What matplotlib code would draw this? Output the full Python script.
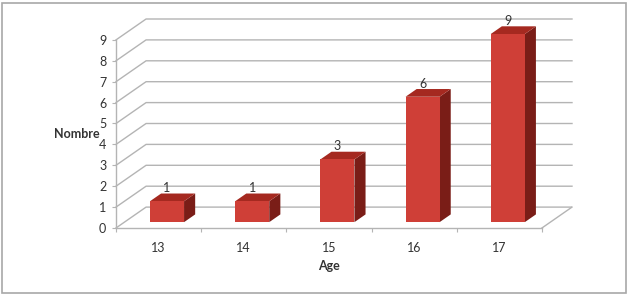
"""Excel-style 3D column chart: Nombre by Age."""

import matplotlib.pyplot as plt
import matplotlib.patches as mpatches

ages = ["13", "14", "15", "16", "17"]
counts = [1, 1, 3, 6, 9]
y_ticks = list(range(10))

# 3D look (data units): wall depth and bar placement inside it
DEPTH_X, DEPTH_Y = 0.353, 1.0
BAR_W = 0.4
BAR_FRONT = 0.28   # fraction of depth where bar front face sits
BAR_DEPTH = 0.37   # fraction of depth taken by the bar

FRONT = "#CF3F37"
TOP = "#A52920"
SIDE = "#7A1D17"
GRID = "#B4B4B4"
TEXT = "#333333"

plt.rcParams['font.family'] = ['Lato', 'DejaVu Sans']

fig = plt.figure(figsize=(6.28, 2.94), dpi=100)
ax = fig.add_axes([116 / 628, 66 / 294, 456 / 628, 209 / 294])
ax.set_xlim(0, len(ages) + DEPTH_X)
ax.set_ylim(0, 9 + DEPTH_Y)

# back wall gridlines + floor
for v in y_ticks:
    ax.plot([0, DEPTH_X, len(ages) + DEPTH_X], [v, v + DEPTH_Y, v + DEPTH_Y],
            color=GRID, lw=1, zorder=1, clip_on=False)
ax.plot([len(ages), len(ages) + DEPTH_X], [0, DEPTH_Y], color=GRID, lw=1, zorder=1)

# bars
ox, oy = BAR_FRONT * DEPTH_X, BAR_FRONT * DEPTH_Y
bx, by = BAR_DEPTH * DEPTH_X, BAR_DEPTH * DEPTH_Y
for i, v in enumerate(counts):
    x0 = i + 0.5 - BAR_W / 2 + ox
    x1 = x0 + BAR_W
    y0, y1 = oy, v + oy
    ax.add_patch(mpatches.Polygon([(x1, y0), (x1 + bx, y0 + by), (x1 + bx, y1 + by), (x1, y1)],
                                  closed=True, facecolor=SIDE, edgecolor='none', zorder=3))
    ax.add_patch(mpatches.Polygon([(x0, y1), (x1, y1), (x1 + bx, y1 + by), (x0 + bx, y1 + by)],
                                  closed=True, facecolor=TOP, edgecolor='none', zorder=3))
    ax.add_patch(mpatches.Rectangle((x0, y0), BAR_W, v, facecolor=FRONT,
                                    edgecolor='none', zorder=4))
    ax.text(x0 + BAR_W / 2, v + 0.9, str(v), ha='center', va='center',
            fontsize=9, color=TEXT, zorder=5)

# front axes
for s in ['top', 'right']:
    ax.spines[s].set_visible(False)
ax.spines['left'].set_bounds(0, 9)
ax.spines['bottom'].set_bounds(0, len(ages))
for s in ['left', 'bottom']:
    ax.spines[s].set_color(GRID)
    ax.spines[s].set_linewidth(1)
ax.patch.set_visible(False)

ax.set_yticks(y_ticks)
ax.set_yticklabels([str(t) for t in y_ticks], fontsize=9, color=TEXT)
ax.set_xticks(range(len(ages) + 1))
ax.set_xticklabels([])
ax.set_xticks([i + 0.5 for i in range(len(ages))], minor=True)
ax.set_xticklabels(ages, minor=True, fontsize=9, color=TEXT)
ax.tick_params(axis='y', length=3, color=GRID, pad=4)
ax.tick_params(axis='x', which='major', length=3, color=GRID)
ax.tick_params(axis='x', which='minor', length=0, pad=10)

ax.set_ylabel("Nombre", fontsize=9, weight='bold', color=TEXT, rotation=0,
              ha='right', va='center')
ax.yaxis.set_label_coords(-0.037, 4.5 / (9 + DEPTH_Y))
ax.set_xlabel("Age", fontsize=9, weight='bold', color=TEXT)
ax.xaxis.set_label_coords(2.5 / (len(ages) + DEPTH_X), -0.155)

# chart area border
fig.patches.append(mpatches.Rectangle((1.5 / 628, 1.5 / 294), 624 / 628, 290 / 294,
                                      transform=fig.transFigure, fill=False,
                                      edgecolor="#A8A8A8", lw=1.2))

plt.savefig("out.png", dpi=100)
plt.close()
